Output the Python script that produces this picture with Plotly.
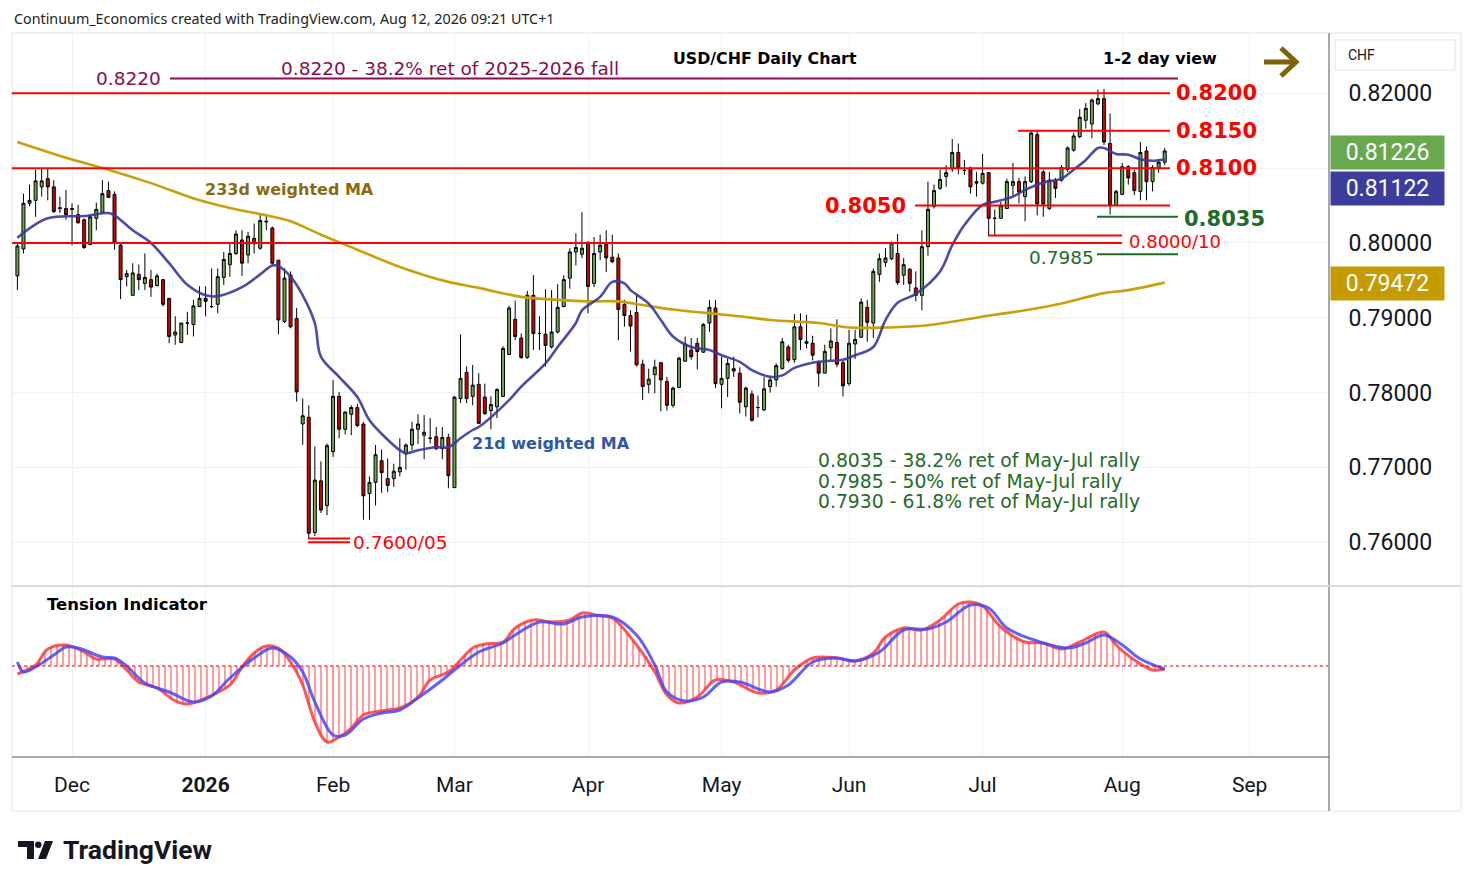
import pandas as pd
import plotly.graph_objects as go

# trading days shown (weekdays, no Dec 25 / Jan 1 bars)
days = pd.bdate_range("2025-11-18", "2026-08-12")
days = days[~days.isin(pd.to_datetime(["2025-12-25", "2026-01-01"]))]

open_px = [
    0.7956, 0.7992, 0.8053, 0.8057, 0.8075, 0.8086, 0.8075, 0.8046, 0.8046, 0.8046,
    0.8038, 0.8031, 0.7998, 0.8033, 0.8041, 0.8070, 0.8065, 0.7997, 0.7955, 0.7930,
    0.7958, 0.7946, 0.7951, 0.7943, 0.7951, 0.7926, 0.7877, 0.7867, 0.7893, 0.7891,
    0.7915, 0.7926, 0.7915, 0.7918, 0.7954, 0.7971, 0.7986, 0.8004, 0.7984, 0.8006,
    0.7993, 0.8028, 0.8020, 0.7977, 0.7895, 0.7957, 0.7899, 0.7758, 0.7767, 0.7613,
    0.7682, 0.7649, 0.7721, 0.7795, 0.7751, 0.7771, 0.7780, 0.7758, 0.7665, 0.7680,
    0.7709, 0.7685, 0.7685, 0.7694, 0.7718, 0.7730, 0.7751, 0.7743, 0.7739, 0.7741,
    0.7725, 0.7740, 0.7673, 0.7792, 0.7827, 0.7795, 0.7811, 0.7794, 0.7776, 0.7781,
    0.7795, 0.7851, 0.7898, 0.7873, 0.7847, 0.7930, 0.7879, 0.7878, 0.7861, 0.7881,
    0.7915, 0.7953, 0.7988, 0.7985, 0.8001, 0.7946, 0.7988, 0.8000, 0.7981, 0.7980,
    0.7918, 0.7903, 0.7907, 0.7838, 0.7811, 0.7824, 0.7840, 0.7815, 0.7783, 0.7807,
    0.7842, 0.7857, 0.7866, 0.7854, 0.7893, 0.7913, 0.7811, 0.7819, 0.7832, 0.7826,
    0.7781, 0.7798, 0.7780, 0.7777, 0.7808, 0.7817, 0.7832, 0.7861, 0.7844, 0.7888,
    0.7868, 0.7866, 0.7840, 0.7826, 0.7860, 0.7867, 0.7840, 0.7812, 0.7865, 0.7874,
    0.7914, 0.7893, 0.7958, 0.7974, 0.7979, 0.7986, 0.7957, 0.7965, 0.7940, 0.7930,
    0.7995, 0.8049, 0.8073, 0.8089, 0.8099, 0.8121, 0.8097, 0.8100, 0.8082, 0.8080,
    0.8094, 0.8033, 0.8033, 0.8046, 0.8077, 0.8082, 0.8062, 0.8082, 0.8145, 0.8095,
    0.8046, 0.8084, 0.8084, 0.8098, 0.8124, 0.8142, 0.8164, 0.8159, 0.8186, 0.8193,
    0.8133, 0.8050, 0.8065, 0.8102, 0.8094, 0.8069, 0.8123, 0.8082, 0.8100, 0.8108,
]
high_px = [
    0.8000, 0.8066, 0.8078, 0.8098, 0.8099, 0.8100, 0.8084, 0.8062, 0.8071, 0.8053,
    0.8051, 0.8033, 0.8037, 0.8054, 0.8084, 0.8082, 0.8069, 0.8000, 0.7964, 0.7973,
    0.7971, 0.7986, 0.7964, 0.7959, 0.7951, 0.7926, 0.7902, 0.7893, 0.7908, 0.7924,
    0.7942, 0.7942, 0.7966, 0.7966, 0.7988, 0.8000, 0.8017, 0.8017, 0.8015, 0.8026,
    0.8040, 0.8036, 0.8022, 0.7977, 0.7966, 0.7962, 0.7913, 0.7792, 0.7783, 0.7728,
    0.7708, 0.7732, 0.7817, 0.7801, 0.7775, 0.7783, 0.7785, 0.7761, 0.7688, 0.7730,
    0.7724, 0.7712, 0.7705, 0.7739, 0.7732, 0.7761, 0.7771, 0.7770, 0.7766, 0.7754,
    0.7754, 0.7745, 0.7795, 0.7878, 0.7835, 0.7837, 0.7826, 0.7812, 0.7795, 0.7806,
    0.7862, 0.7916, 0.7923, 0.7879, 0.7936, 0.7957, 0.7902, 0.7938, 0.7937, 0.7945,
    0.7957, 0.7993, 0.8013, 0.8041, 0.8002, 0.8008, 0.8011, 0.8017, 0.8011, 0.7986,
    0.7924, 0.7910, 0.7931, 0.7844, 0.7832, 0.7844, 0.7841, 0.7821, 0.7808, 0.7848,
    0.7875, 0.7873, 0.7873, 0.7893, 0.7924, 0.7924, 0.7848, 0.7846, 0.7848, 0.7834,
    0.7808, 0.7803, 0.7796, 0.7821, 0.7821, 0.7839, 0.7873, 0.7864, 0.7905, 0.7906,
    0.7904, 0.7876, 0.7843, 0.7864, 0.7886, 0.7898, 0.7843, 0.7884, 0.7884, 0.7926,
    0.7924, 0.7966, 0.7986, 0.7993, 0.8002, 0.8012, 0.7980, 0.7966, 0.7962, 0.8017,
    0.8082, 0.8078, 0.8098, 0.8104, 0.8139, 0.8133, 0.8111, 0.8102, 0.8095, 0.8119,
    0.8095, 0.8045, 0.8055, 0.8086, 0.8107, 0.8087, 0.8089, 0.8149, 0.8151, 0.8098,
    0.8095, 0.8087, 0.8104, 0.8129, 0.8147, 0.8179, 0.8187, 0.8193, 0.8205, 0.8206,
    0.8173, 0.8071, 0.8107, 0.8104, 0.8098, 0.8135, 0.8129, 0.8104, 0.8112, 0.8127,
]
low_px = [
    0.7937, 0.7986, 0.8049, 0.8035, 0.8062, 0.8057, 0.8040, 0.8040, 0.8031, 0.7997,
    0.8026, 0.7992, 0.7997, 0.8017, 0.8040, 0.8060, 0.7991, 0.7925, 0.7942, 0.7930,
    0.7937, 0.7937, 0.7928, 0.7942, 0.7915, 0.7866, 0.7864, 0.7866, 0.7877, 0.7875,
    0.7915, 0.7902, 0.7913, 0.7906, 0.7944, 0.7955, 0.7984, 0.7956, 0.7973, 0.7986,
    0.7991, 0.8017, 0.7971, 0.7878, 0.7893, 0.7886, 0.7788, 0.7730, 0.7605, 0.7608,
    0.7639, 0.7636, 0.7714, 0.7739, 0.7744, 0.7743, 0.7754, 0.7630, 0.7630, 0.7649,
    0.7666, 0.7667, 0.7674, 0.7688, 0.7697, 0.7723, 0.7731, 0.7711, 0.7732, 0.7723,
    0.7711, 0.7672, 0.7673, 0.7786, 0.7786, 0.7783, 0.7758, 0.7770, 0.7751, 0.7766,
    0.7794, 0.7850, 0.7870, 0.7845, 0.7845, 0.7857, 0.7857, 0.7835, 0.7859, 0.7879,
    0.7914, 0.7939, 0.7970, 0.7980, 0.7906, 0.7941, 0.7977, 0.7961, 0.7973, 0.7870,
    0.7888, 0.7855, 0.7835, 0.7790, 0.7799, 0.7799, 0.7775, 0.7776, 0.7780, 0.7806,
    0.7841, 0.7844, 0.7831, 0.7853, 0.7881, 0.7806, 0.7779, 0.7794, 0.7821, 0.7772,
    0.7768, 0.7761, 0.7767, 0.7775, 0.7800, 0.7808, 0.7831, 0.7840, 0.7840, 0.7857,
    0.7859, 0.7843, 0.7808, 0.7826, 0.7843, 0.7834, 0.7795, 0.7809, 0.7845, 0.7873,
    0.7868, 0.7873, 0.7948, 0.7968, 0.7977, 0.7944, 0.7944, 0.7935, 0.7922, 0.7910,
    0.7983, 0.8046, 0.8071, 0.8075, 0.8095, 0.8092, 0.8091, 0.8066, 0.8062, 0.8078,
    0.8010, 0.8010, 0.8033, 0.8046, 0.8062, 0.8053, 0.8029, 0.8080, 0.8037, 0.8035,
    0.8044, 0.8060, 0.8082, 0.8095, 0.8122, 0.8140, 0.8153, 0.8140, 0.8184, 0.8131,
    0.8038, 0.8049, 0.8064, 0.8078, 0.8064, 0.8057, 0.8057, 0.8069, 0.8094, 0.8104,
]
close_px = [
    0.7996, 0.8053, 0.8057, 0.8083, 0.8083, 0.8075, 0.8042, 0.8047, 0.8038, 0.8045,
    0.8027, 0.7994, 0.8035, 0.8045, 0.8066, 0.8061, 0.8000, 0.7951, 0.7959, 0.7960,
    0.7951, 0.7954, 0.7941, 0.7956, 0.7918, 0.7875, 0.7881, 0.7893, 0.7893, 0.7916,
    0.7926, 0.7922, 0.7915, 0.7955, 0.7978, 0.7986, 0.8012, 0.7973, 0.8009, 0.7999,
    0.8030, 0.8029, 0.7973, 0.7897, 0.7953, 0.7888, 0.7801, 0.7769, 0.7612, 0.7683,
    0.7643, 0.7729, 0.7795, 0.7751, 0.7774, 0.7780, 0.7756, 0.7662, 0.7680, 0.7717,
    0.7693, 0.7676, 0.7695, 0.7700, 0.7730, 0.7751, 0.7758, 0.7747, 0.7739, 0.7725,
    0.7740, 0.7689, 0.7794, 0.7819, 0.7792, 0.7810, 0.7759, 0.7772, 0.7784, 0.7804,
    0.7859, 0.7913, 0.7875, 0.7847, 0.7930, 0.7879, 0.7879, 0.7863, 0.7881, 0.7914,
    0.7951, 0.7988, 0.7994, 0.7993, 0.7942, 0.7986, 0.7997, 0.7980, 0.7975, 0.7911,
    0.7903, 0.7889, 0.7837, 0.7808, 0.7818, 0.7834, 0.7817, 0.7783, 0.7806, 0.7846,
    0.7865, 0.7848, 0.7855, 0.7891, 0.7914, 0.7812, 0.7819, 0.7839, 0.7829, 0.7787,
    0.7806, 0.7763, 0.7780, 0.7805, 0.7817, 0.7836, 0.7868, 0.7843, 0.7888, 0.7871,
    0.7866, 0.7850, 0.7826, 0.7855, 0.7869, 0.7838, 0.7809, 0.7866, 0.7871, 0.7921,
    0.7894, 0.7962, 0.7979, 0.7980, 0.8000, 0.7947, 0.7971, 0.7946, 0.7930, 0.7995,
    0.8045, 0.8070, 0.8085, 0.8094, 0.8121, 0.8100, 0.8097, 0.8075, 0.8080, 0.8093,
    0.8033, 0.8033, 0.8050, 0.8082, 0.8082, 0.8068, 0.8082, 0.8147, 0.8052, 0.8052,
    0.8084, 0.8073, 0.8101, 0.8127, 0.8143, 0.8168, 0.8180, 0.8191, 0.8193, 0.8135,
    0.8050, 0.8069, 0.8102, 0.8087, 0.8070, 0.8121, 0.8082, 0.8101, 0.8108, 0.8123,
]

# moving averages, read at sample bars (bar number into days)
wma21_bar = [0, 5, 11, 15, 16, 19, 22, 25, 28, 31, 33, 37, 40, 42, 43, 45, 47, 49, 50, 53,
             56, 58, 61, 63, 64, 66, 69, 71, 73, 75, 76, 81, 83, 87, 89, 92, 93, 96, 98, 100,
             101, 104, 106, 108, 111, 114, 116, 119, 121, 124, 126, 128, 131, 133, 136, 138,
             141, 143, 145, 148, 152, 154, 156, 159, 161, 164, 166, 169, 172, 174, 176, 178,
             179, 181, 183, 185, 187, 189]
wma21_val = [0.8007, 0.8033, 0.8036, 0.8040, 0.8037, 0.8017, 0.8000, 0.7973, 0.7944, 0.7930,
             0.7929, 0.7941, 0.7958, 0.7970, 0.7969, 0.7955, 0.7930, 0.7893, 0.7848, 0.7821,
             0.7794, 0.7763, 0.7737, 0.7723, 0.7719, 0.7723, 0.7727, 0.7727, 0.7739, 0.7750,
             0.7754, 0.7790, 0.7808, 0.7839, 0.7861, 0.7893, 0.7910, 0.7928, 0.7948, 0.7946,
             0.7937, 0.7919, 0.7897, 0.7875, 0.7861, 0.7857, 0.7850, 0.7841, 0.7830, 0.7821,
             0.7823, 0.7833, 0.7840, 0.7842, 0.7844, 0.7850, 0.7861, 0.7897, 0.7920, 0.7932,
             0.7962, 0.7997, 0.8024, 0.8051, 0.8055, 0.8062, 0.8071, 0.8081, 0.8086, 0.8098,
             0.8111, 0.8127, 0.8127, 0.8119, 0.8118, 0.8112, 0.8110, 0.8112]

wma233_bar = [0, 8, 15, 22, 30, 36, 41, 45, 50, 56, 63, 71, 76, 83, 89, 94, 99, 103, 108, 114,
              119, 124, 132, 137, 143, 150, 161, 166, 172, 179, 183, 189]
wma233_val = [0.8135, 0.8114, 0.8098, 0.8080, 0.8057, 0.8045, 0.8037, 0.8029, 0.8011, 0.7991,
              0.7968, 0.7948, 0.7940, 0.7928, 0.7924, 0.7922, 0.7922, 0.7917, 0.7911, 0.7906,
              0.7902, 0.7897, 0.7893, 0.7887, 0.7887, 0.7890, 0.7904, 0.7910, 0.7919, 0.7933,
              0.7937, 0.7947]

# tension indicator (fast = red with histogram, slow = blue)
tens_fast_bar = [0, 3, 5, 8, 11, 13, 16, 18, 20, 23, 26, 28, 31, 35, 37, 39, 41, 43, 45, 47,
                 49, 51, 53, 55, 57, 60, 63, 66, 68, 71, 73, 75, 77, 80, 82, 85, 88, 91, 93, 96,
                 98, 102, 105, 107, 109, 112, 115, 118, 122, 125, 128, 131, 135, 138, 141, 143,
                 146, 149, 152, 155, 157, 159, 162, 166, 169, 172, 175, 179, 181, 184, 187, 189]
tens_fast_val = [-8, 1, 17, 21, 14, 7, 7, -4, -16, -22, -35, -38, -32, -19, -1, 13, 20, 18, 4, -19,
                 -56, -76, -71, -62, -49, -45, -42, -31, -14, -6, 6, 18, 22, 24, 38, 46, 44, 46, 53, 50,
                 48, 21, -6, -29, -37, -31, -14, -16, -27, -24, -4, 8, 8, 5, 13, 29,
                 38, 36, 46, 62, 64, 60, 39, 24, 23, 17, 24, 34, 21, 6, -4, -3]
tens_slow_bar = [0, 1, 3, 6, 8, 10, 14, 16, 18, 21, 25, 29, 32, 35, 39, 42, 45, 47, 49, 52,
                 54, 57, 60, 63, 66, 70, 72, 76, 80, 82, 86, 90, 93, 98, 102, 105, 107, 110, 113, 116,
                 119, 124, 127, 131, 135, 138, 142, 146, 150, 153, 157, 160, 163, 167, 173, 176,
                 179, 182, 185, 189]
tens_slow_val = [4, -6, -1, 11, 19, 18, 9, 8, 0, -17, -26, -36, -30, -12, 8, 18, 9, -6, -36, -69,
                 -69, -53, -47, -44, -32, -14, -4, 14, 23, 31, 44, 42, 49, 49, 31, 1, -26, -35, -31, -16,
                 -16, -26, -19, 4, 8, 5, 14, 36, 37, 44, 61, 58, 38, 27, 18, 23,
                 31, 21, 7, -3]

month_ticks = ["2025-12-01", "2026-01-02", "2026-02-02", "2026-03-02", "2026-04-01",
               "2026-05-01", "2026-06-01", "2026-07-01", "2026-08-03", "2026-09-01"]
month_text = ["Dec", "<b>2026</b>", "Feb", "Mar", "Apr", "May", "Jun", "Jul", "Aug", "Sep"]

last_close = 0.81226
last_wma21 = 0.81122
last_wma233 = 0.79472

bar_time = [(d + pd.Timedelta(hours=12)).strftime("%Y-%m-%d %H:%M") for d in days]
assert len(bar_time) == len(open_px) == len(close_px) == len(high_px) == len(low_px)


def at(bars):
    return [bar_time[b] for b in bars]


# screen pixel -> paper helpers (plot area 12..1328 x 33..757 on screen)
def X(px):
    return (px - 12) / 1316


def Y(py):
    return (757 - py) / 724


RED = "#ff0000"
GREEN = "#1f6b2a"
PURPLE = "#880e4f"
DJ = "DejaVu Sans"

fig = go.Figure()

fig.add_trace(go.Candlestick(
    x=bar_time, open=open_px, high=high_px, low=low_px, close=close_px,
    increasing=dict(line=dict(color="#000000", width=1), fillcolor="#6aa84f"),
    decreasing=dict(line=dict(color="#000000", width=1), fillcolor="#d10000"),
    whiskerwidth=0, showlegend=False, xaxis="x", yaxis="y",
))
fig.add_trace(go.Scatter(
    x=at(wma233_bar), y=wma233_val, mode="lines", line=dict(color="#c9a00c", width=2.6, shape="spline"),
    showlegend=False, xaxis="x", yaxis="y",
))
fig.add_trace(go.Scatter(
    x=at(wma21_bar), y=wma21_val, mode="lines", line=dict(color="rgba(55,55,160,0.9)", width=2.6, shape="spline"),
    showlegend=False, xaxis="x", yaxis="y",
))

# tension panel
fig.add_trace(go.Scatter(
    x=at(tens_fast_bar), y=tens_fast_val, mode="lines", line=dict(width=0, shape="spline"),
    fill="tozeroy", fillcolor="rgba(0,0,0,0)",
    fillpattern=dict(shape="|", size=6, solidity=0.35, fgcolor="rgba(255,30,30,0.85)",
                     bgcolor="rgba(0,0,0,0)"),
    showlegend=False, xaxis="x2", yaxis="y2",
))
fig.add_trace(go.Scatter(
    x=at(tens_fast_bar), y=tens_fast_val, mode="lines",
    line=dict(color="rgba(255,45,45,0.8)", width=3, shape="spline"),
    showlegend=False, xaxis="x2", yaxis="y2",
))
fig.add_trace(go.Scatter(
    x=at(tens_slow_bar), y=tens_slow_val, mode="lines",
    line=dict(color="rgba(70,70,250,0.85)", width=3, shape="spline"),
    showlegend=False, xaxis="x2", yaxis="y2",
))

breaks = [dict(bounds=["sat", "mon"]), dict(values=["2025-12-25", "2026-01-01"])]
tickvals = [t + " 12:00" for t in month_ticks]
x_range = ["2025-11-17 14:40", "2026-09-18 09:36"]

# the page body adds 8px, so the figure is 8px smaller and margins shifted
fig.update_layout(
    width=1466, height=879,
    margin=dict(l=4, r=146, t=25, b=130),
    paper_bgcolor="white", plot_bgcolor="white",
    font=dict(family="Roboto", color="#131722"),
    hovermode=False, showlegend=False,
    xaxis=dict(domain=[0, 1], anchor="y", type="date", range=x_range, rangebreaks=breaks,
               rangeslider=dict(visible=False), tickvals=tickvals, ticktext=month_text,
               showticklabels=False, showgrid=True, gridcolor="#eef1f5", zeroline=False),
    xaxis2=dict(domain=[0, 1], anchor="y2", type="date", matches="x", range=x_range,
                rangebreaks=breaks, rangeslider=dict(visible=False), tickvals=tickvals,
                ticktext=month_text, showgrid=True, gridcolor="#eef1f5", zeroline=False,
                ticks="outside", ticklen=9, tickcolor="rgba(0,0,0,0)",
                tickfont=dict(family="Roboto", size=21, color="#131722")),
    yaxis=dict(domain=[Y(585), 1], anchor="x", side="right", range=[0.75428, 0.82807],
               tickvals=[0.76, 0.77, 0.78, 0.79, 0.80, 0.81, 0.82],
               ticktext=["0.76000", "0.77000", "0.78000", "0.79000", "0.80000", "", "0.82000"],
               showgrid=True, gridcolor="#eef1f5", zeroline=False,
               ticks="outside", ticklen=15, tickcolor="rgba(0,0,0,0)",
               tickfont=dict(family="Roboto", size=23, color="#131722")),
    yaxis2=dict(domain=[0, Y(587)], anchor="x2", side="right", range=[-91, 79],
                showticklabels=False, showgrid=False, zeroline=False),
)

shapes = []
# frame and separators
shapes.append(dict(type="rect", xref="paper", yref="paper", x0=X(12), x1=X(1461), y0=Y(33), y1=Y(811),
                   line=dict(color="#e0e3eb", width=1)))
shapes.append(dict(type="line", xref="paper", yref="paper", x0=X(1329), x1=X(1329), y0=Y(33), y1=Y(811),
                   line=dict(color="#50535e", width=1)))
shapes.append(dict(type="line", xref="paper", yref="paper", x0=X(12), x1=X(1329), y0=Y(757), y1=Y(757),
                   line=dict(color="#50535e", width=1)))
shapes.append(dict(type="line", xref="paper", yref="paper", x0=X(12), x1=X(1461), y0=Y(586), y1=Y(586),
                   line=dict(color="#d6d9e0", width=2)))
shapes.append(dict(type="line", xref="paper", yref="y2", x0=0, x1=1, y0=0, y1=0,
                   line=dict(color="#e00000", width=1, dash="dot")))

# key levels: (price, from px, to px, colour)
key_levels = [0.8220, 0.8200, 0.8150, 0.8100, 0.8050, 0.8035, 0.8010, 0.8000, 0.7985, 0.7605, 0.7600]
level_span = [(170, 1178), (12, 1170), (1018, 1170), (12, 1170), (915, 1170), (1097, 1178),
              (988, 1122), (12, 1122), (1097, 1178), (308, 350), (308, 350)]
level_color = [PURPLE, RED, RED, RED, RED, GREEN, RED, RED, GREEN, RED, RED]
for lv, (a, b), c in zip(key_levels, level_span, level_color):
    shapes.append(dict(type="line", xref="paper", yref="y", x0=X(a), x1=X(b), y0=lv, y1=lv,
                       line=dict(color=c, width=2)))

# arrow at top right
arrow_c = "#7d6208"
shapes.append(dict(type="line", xref="paper", yref="paper", x0=X(1264), x1=X(1295), y0=Y(62), y1=Y(62),
                   line=dict(color=arrow_c, width=5)))
shapes.append(dict(type="path", xref="paper", yref="paper",
                   path=f"M {X(1281)},{Y(48)} L {X(1296)},{Y(62)} L {X(1281)},{Y(76)}",
                   line=dict(color=arrow_c, width=5)))

# TradingView logo mark
logo_c = "#131722"
shapes.append(dict(type="rect", xref="paper", yref="paper", x0=X(18), x1=X(34), y0=Y(841), y1=Y(847),
                   fillcolor=logo_c, line=dict(width=0)))
shapes.append(dict(type="rect", xref="paper", yref="paper", x0=X(27), x1=X(34), y0=Y(841), y1=Y(859),
                   fillcolor=logo_c, line=dict(width=0)))
shapes.append(dict(type="circle", xref="paper", yref="paper", x0=X(35), x1=X(41.5), y0=Y(841.5), y1=Y(848),
                   fillcolor=logo_c, line=dict(width=0)))
shapes.append(dict(type="path", xref="paper", yref="paper",
                   path=f"M {X(45)},{Y(841)} L {X(53)},{Y(841)} L {X(46)},{Y(859)} L {X(38)},{Y(859)} Z",
                   fillcolor=logo_c, line=dict(width=0)))
# CHF box
shapes.append(dict(type="rect", xref="paper", yref="paper", x0=X(1335), x1=X(1455), y0=Y(40), y1=Y(70),
                   line=dict(color="#e0e3eb", width=1)))

fig.update_layout(shapes=shapes)

ann = []


def text(s, x, y, size, color, xanchor="left", bold=False, family=DJ, yref="paper"):
    ann.append(dict(text=f"<b>{s}</b>" if bold else s, x=X(x), y=y if yref != "paper" else Y(y),
                    xref="paper", yref=yref, xanchor=xanchor, yanchor="middle", showarrow=False,
                    font=dict(family=family, size=size, color=color)))


text("Continuum_Economics created with TradingView.com, Aug 12, 2026 09:21 UTC+1", 12, 19, 14.3, "#222222",
     family="Noto Sans")
text("USD/CHF Daily Chart", 765, 59, 15.8, "#000000", xanchor="center", bold=True)
text("1-2 day view", 1160, 59, 16, "#000000", xanchor="center", bold=True)
text("0.8220", 163, 78, 18.5, PURPLE, xanchor="right")
text("0.8220 - 38.2% ret of 2025-2026 fall", 450, 68, 18.5, PURPLE, xanchor="center")
text("0.8200", 1174, 0.8200, 21, RED, bold=True, yref="y")
text("0.8150", 1174, 0.8150, 21, RED, bold=True, yref="y")
text("0.8100", 1174, 0.8100, 21, RED, bold=True, yref="y")
text("0.8050", 908, 0.8050, 21, RED, xanchor="right", bold=True, yref="y")
text("0.8035", 1182, 219, 21, GREEN, bold=True)
text("0.8000/10", 1127, 241, 18, RED)
text("0.7985", 1096, 257, 18.5, GREEN, xanchor="right")
text("0.7600/05", 351, 542, 18.5, RED)
text("233d weighted MA", 203, 190, 16, "#8a6a10", bold=True)
text("21d weighted MA", 470, 443, 16, "#2d58a8", bold=True)
text("0.8035 - 38.2% ret of May-Jul rally", 816, 461, 18.8, GREEN)
text("0.7985 - 50% ret of May-Jul rally", 816, 481, 18.8, GREEN)
text("0.7930 - 61.8% ret of May-Jul rally", 816, 501, 18.8, GREEN)
text("Tension Indicator", 45, 604, 16.5, "#000000", bold=True)
text("CHF", 1346, 55, 14, "#131722", family="Roboto")
text("<b>TradingView</b>", 61, 849, 26.5, "#131722", family="Roboto")

# last-value boxes on price scale
for val, yc, col in [(last_close, 152, "#6aa84f"), (last_wma21, 188, "#3d3d9e"), (last_wma233, 283, "#c49b00")]:
    ann.append(dict(text=f"{val:.5f}", x=X(1330), y=Y(yc), xref="paper", yref="paper",
                    xanchor="left", yanchor="middle", showarrow=False, width=109, height=29,
                    borderpad=2, bgcolor=col, align="center",
                    font=dict(family="Roboto", size=23, color="#ffffff")))

fig.update_layout(annotations=ann)

fig.write_html("out.html")
